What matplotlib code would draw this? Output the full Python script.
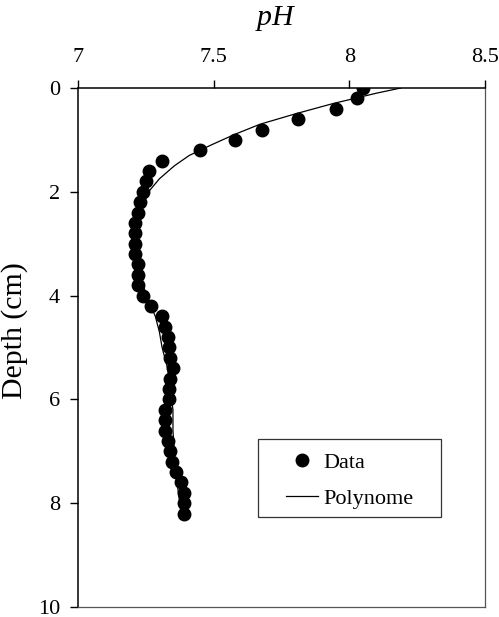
import matplotlib
matplotlib.use("Agg")
import matplotlib.pyplot as plt
from matplotlib.patches import Rectangle

plt.rcParams["font.family"] = ["Liberation Serif", "DejaVu Serif"]
plt.rcParams["mathtext.fontset"] = "custom"
plt.rcParams["mathtext.it"] = "Liberation Serif:italic"

# measured profile
depth = [0.0, 0.2, 0.4, 0.6, 0.8, 1.0, 1.2, 1.4, 1.6, 1.8, 2.0, 2.2, 2.4, 2.6,
         2.8, 3.0, 3.2, 3.4, 3.6, 3.8, 4.0, 4.2, 4.4, 4.6, 4.8, 5.0, 5.2, 5.4,
         5.6, 5.8, 6.0, 6.2, 6.4, 6.6, 6.8, 7.0, 7.2, 7.4, 7.6, 7.8, 8.0, 8.2]
ph = [8.05, 8.03, 7.95, 7.81, 7.68, 7.58, 7.45, 7.31, 7.26, 7.25, 7.24, 7.23,
      7.22, 7.21, 7.21, 7.21, 7.21, 7.22, 7.22, 7.22, 7.24, 7.27, 7.31, 7.32,
      7.33, 7.335, 7.34, 7.35, 7.34, 7.335, 7.335, 7.32, 7.32, 7.32, 7.33,
      7.34, 7.345, 7.36, 7.38, 7.39, 7.39, 7.39]

# fitted polynomial
fit_depth = [0.0, 0.1, 0.3, 0.5, 0.7, 0.9, 1.1, 1.3, 1.5, 1.75, 2.0, 2.3, 2.6,
             3.0, 3.4, 3.8, 4.1, 4.4, 4.7, 5.0, 5.4, 5.8, 6.2, 6.6, 7.0, 7.4,
             7.8, 8.2]
fit_ph = [8.19, 8.10, 7.94, 7.80, 7.67, 7.575, 7.49, 7.41, 7.355, 7.30, 7.26,
          7.235, 7.22, 7.215, 7.22, 7.24, 7.26, 7.285, 7.30, 7.31, 7.33, 7.34,
          7.35, 7.35, 7.355, 7.36, 7.37, 7.38]

fig = plt.figure(figsize=(4.99, 6.17), dpi=100)
ax = fig.add_axes([0.1563, 0.0162, 0.9719 - 0.1563, 0.8574 - 0.0162])

ax.plot(fit_ph, fit_depth, color="black", lw=0.9, label="Polynome", zorder=2)
ax.plot(ph, depth, "o", color="black", ms=9, label="Data", zorder=3)

ax.set_xlim(7, 8.5)
ax.set_ylim(10, 0)
ax.set_xticks([7, 7.5, 8, 8.5])
ax.set_xticklabels(["7", "7.5", "8", "8.5"])
ax.set_yticks([0, 2, 4, 6, 8, 10])
ax.xaxis.tick_top()
ax.xaxis.set_label_position("top")
ax.tick_params(axis="both", labelsize=16, length=6, width=1, direction="out")
ax.tick_params(axis="x", pad=9)
ax.tick_params(axis="y", pad=7)
ax.set_xlabel(r"$pH$", fontsize=21.5)
ax.set_ylabel("Depth (cm)", fontsize=21.5)
ax.xaxis.set_label_coords(0.487, 1.121)
ax.yaxis.set_label_coords(-0.123, 0.532)

for side in ["top", "left"]:
    ax.spines[side].set_color("black")
    ax.spines[side].set_linewidth(1.1)
for side in ["right", "bottom"]:
    ax.spines[side].set_color("#555555")
    ax.spines[side].set_linewidth(0.9)

handles, labels = ax.get_legend_handles_labels()
ax.legend(handles[::-1], labels[::-1], loc="center left",
          bbox_to_anchor=(0.511, 0.2437), fontsize=16, frameon=False,
          handlelength=1.43, handletextpad=0.27, borderpad=0.0,
          labelspacing=0.68, borderaxespad=0.0)
ax.add_patch(Rectangle((0.442, 0.1734), 0.4496, 0.150, transform=ax.transAxes,
                       fill=False, edgecolor="#333333", lw=0.9, zorder=4))

fig.savefig("out.png", dpi=100)
